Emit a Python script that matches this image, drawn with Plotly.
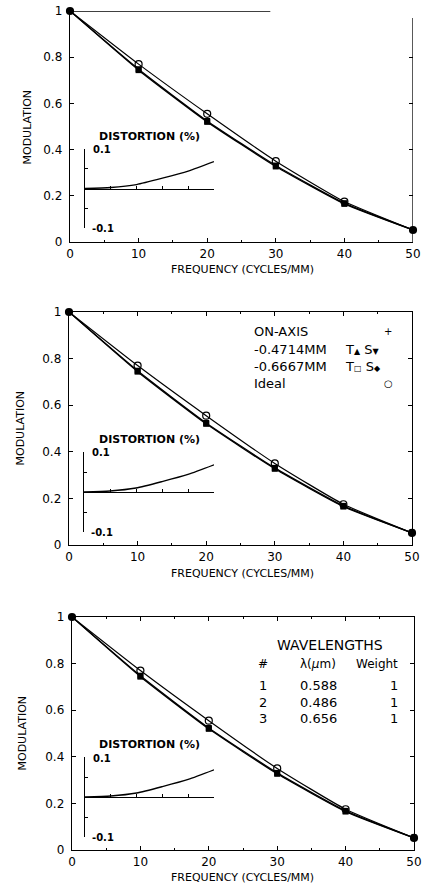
import plotly.graph_objects as go

# ---------------- data ----------------
freq = [0, 10, 20, 30, 40, 50]
ideal_mtf = [1.0, 0.770, 0.555, 0.350, 0.175, 0.052]
tan_mtf = [1.0, 0.748, 0.524, 0.331, 0.168, 0.052]
sag_mtf = [1.0, 0.744, 0.520, 0.327, 0.165, 0.052]

field_frac = [0, 0.2, 0.4, 0.6, 0.8, 1.0]
distortion_pct = [0, 0.0025, 0.010, 0.026, 0.044, 0.068]

x_ticks = [0, 10, 20, 30, 40, 50]
x_minor = [5, 15, 25, 35, 45]
y_ticks = [0, 0.2, 0.4, 0.6, 0.8, 1]
y_tick_text = ["0", "0.2", "0.4", "0.6", "0.8", "1"]
inset_x_ticks = [0.2, 0.4, 0.6, 0.8, 1.0]
inset_y_ticks = [-0.1, -0.05, 0, 0.05, 0.1]
inset_y_labels = ["0.1", "-0.1"]

legend_labels = ["ON-AXIS", "-0.4714MM", "-0.6667MM", "Ideal"]
legend_marks = ["+", "T<span style='font-size:8px'>▲</span> S<span style='font-size:8px'>▼</span>",
                "T<span style='font-size:8px'>□</span> S<span style='font-size:8px'>◆</span>", "○"]
wl_num = ["1", "2", "3"]
wl_um = ["0.588", "0.486", "0.656"]
wl_weight = ["1", "1", "1"]

# ---------------- layout geometry (pixels) ----------------
W, H = 422, 888
FONT = "DejaVu Sans"
panels = [
    dict(x0=70, x1=413, y0=11, y1=242, ix=85, itop=149, ibot=228, iend=214, ytx=27, xty=269, dty=136),
    dict(x0=69, x1=412, y0=312, y1=545, ix=84, itop=452, ibot=532, iend=214, ytx=20, xty=573, dty=439),
    dict(x0=72, x1=414, y0=617, y1=850, ix=85, itop=757, ibot=837, iend=214, ytx=22, xty=877, dty=744),
]


def px(x):
    return x / W


def py(y):
    return 1 - y / H


annotations = []


def note(x, y, text, size, xanchor="center", **kw):
    annotations.append(dict(x=px(x), y=py(y), xref="paper", yref="paper", text=text,
                            xanchor=xanchor, yanchor="middle", showarrow=False,
                            font=dict(size=size, color="black", family=FONT), **kw))


fig = go.Figure()
layout = dict(
    template="none",
    width=W, height=H, margin=dict(l=0, r=0, t=0, b=0, pad=0), autosize=False,
    paper_bgcolor="white", plot_bgcolor="rgba(0,0,0,0)",
    showlegend=False, font=dict(family=FONT, color="black", size=12),
)
shapes = []

for i, p in enumerate(panels):
    k = i + 1
    ks = "" if k == 1 else str(k)
    ik = str(k + 3)
    xa, ya = "x" + ks, "y" + ks

    # main MTF curves
    for vals in (sag_mtf, tan_mtf):
        fig.add_trace(go.Scatter(
            x=freq, y=vals, xaxis=xa, yaxis=ya, mode="lines+markers", cliponaxis=False,
            line=dict(color="black", width=1.3, shape="spline", smoothing=0.5),
            marker=dict(symbol="square", size=6, color="black")))
    fig.add_trace(go.Scatter(
        x=freq, y=ideal_mtf, xaxis=xa, yaxis=ya, mode="lines+markers", cliponaxis=False,
        line=dict(color="black", width=1.2, shape="spline", smoothing=0.5),
        marker=dict(symbol="circle-open", size=7, color="black", line=dict(width=1.2))))

    # distortion inset
    fig.add_trace(go.Scatter(
        x=field_frac, y=distortion_pct, xaxis="x" + ik, yaxis="y" + ik, mode="lines",
        line=dict(color="black", width=1.3, shape="spline", smoothing=0.6)))

    mirror = False if k == 1 else "ticks"
    layout["xaxis" + ks] = dict(
        domain=[px(p["x0"]), px(p["x1"])], anchor=ya, range=[0, 50], automargin=False,
        showline=True, linecolor="black", linewidth=1.3, mirror=mirror,
        ticks="inside", ticklen=4, tickcolor="black", tickvals=x_ticks,
        minor=dict(tickvals=x_minor, ticks="inside", ticklen=2, tickcolor="black", showgrid=False),
        tickfont=dict(size=12), ticklabeloverflow="allow",
        showgrid=False, zeroline=False, fixedrange=True)
    layout["yaxis" + ks] = dict(
        domain=[py(p["y1"]), py(p["y0"])], anchor=xa, range=[0, 1], automargin=False,
        showline=True, linecolor="black", linewidth=1.3, mirror=mirror,
        ticks="inside", ticklen=4, tickcolor="black", tickvals=y_ticks, ticktext=y_tick_text,
        tickfont=dict(size=12), ticklabelstandoff=4, ticklabeloverflow="allow",
        showgrid=False, zeroline=False, fixedrange=True)

    izero = (p["itop"] + p["ibot"]) / 2
    layout["xaxis" + ik] = dict(
        domain=[px(p["ix"]), px(p["iend"])], anchor="free", position=py(izero), range=[0, 1],
        automargin=False, showline=True, linecolor="black", linewidth=1.3,
        ticks="inside", ticklen=3, tickcolor="black", tickvals=inset_x_ticks,
        showticklabels=False, showgrid=False, zeroline=False, fixedrange=True)
    layout["yaxis" + ik] = dict(
        domain=[py(p["ibot"]), py(p["itop"])], anchor="x" + ik, range=[-0.1, 0.1],
        automargin=False, showline=True, linecolor="black", linewidth=1.3,
        ticks="inside", ticklen=3, tickcolor="black", tickvals=inset_y_ticks,
        showticklabels=False, showgrid=False, zeroline=False, fixedrange=True)

    # inset end labels
    note(p["ix"] + 6, p["itop"] + 1, "<b>" + inset_y_labels[0] + "</b>", 10, xanchor="left")
    note(p["ix"] + 5, p["ibot"], "<b>" + inset_y_labels[1] + "</b>", 10, xanchor="left")

    # titles
    note(242, p["xty"], "FREQUENCY (CYCLES/MM)", 11)
    note(p["ytx"], (p["y0"] + p["y1"]) / 2, "MODULATION", 11, textangle=-90)
    note(149, p["dty"], "<b>DISTORTION (%)</b>", 11)

# panel 1: partial frame (top and right) and right-side ticks
shapes.append(dict(type="line", xref="x", yref="y", x0=0, y0=1, x1=29.2, y1=1,
                   line=dict(color="black", width=1.3), layer="above"))
shapes.append(dict(type="line", xref="x", yref="y", x0=50, y0=0, x1=50, y1=0.97,
                   line=dict(color="black", width=1.3), layer="above"))
fig.add_trace(go.Scatter(x=[], y=[], xaxis="x", yaxis="y7", mode="lines"))
layout["yaxis7"] = dict(overlaying="y", anchor="x", side="right", range=[0, 1], automargin=False,
                        showline=False, ticks="inside", ticklen=4, tickcolor="black",
                        tickvals=y_ticks[1:-1], showticklabels=False, showgrid=False,
                        zeroline=False, fixedrange=True)

# panel 2 legend
leg_y = [332, 349, 366, 383]
for lab, mark, yy in zip(legend_labels, legend_marks, leg_y):
    note(252, yy, lab, 13, xanchor="left")
    if mark in ("+", "○"):
        note(388, yy, mark, 10)
    else:
        note(343, yy, mark, 13, xanchor="left")

# panel 3 wavelength table
note(330, 645, "WAVELENGTHS", 14)
note(263, 664, "<i>#</i>", 12)
note(318, 664, "λ(<i>µ</i>m)", 12)
note(377, 664, "Weight", 12)
for n, um, wgt, yy in zip(wl_num, wl_um, wl_weight, [685, 702, 718]):
    note(263, yy, n, 13)
    note(318, yy, um, 13)
    note(400, yy, wgt, 13, xanchor="right")

layout["annotations"] = annotations
layout["shapes"] = shapes
fig.update_layout(**layout)
fig.write_html("out.html", config={"displayModeBar": False, "staticPlot": True},
               post_script="document.body.style.margin='0px';document.body.style.padding='0px';"
                           "document.body.style.overflow='hidden';")
